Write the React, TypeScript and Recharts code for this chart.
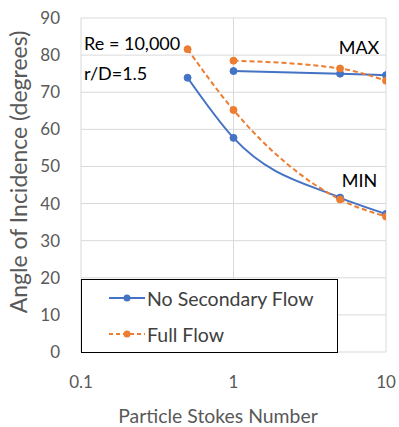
import React from 'react';
import { LineChart, Line, XAxis, YAxis, CartesianGrid, Legend, ReferenceDot } from 'recharts';

const maxStokes = [1, 5, 10];
const minStokes = [0.5, 1, 5, 10];
const noSecondaryMax = [75.7, 75.0, 74.6];
const noSecondaryMin = [73.9, 57.7, 41.6, 37.2];
const fullFlowMax = [78.5, 76.4, 73.1];
const fullFlowMin = [81.6, 65.2, 41.1, 36.5];
const xTicks = [0.1, 1, 10];
const yTicks = [0, 10, 20, 30, 40, 50, 60, 70, 80, 90];
const legendItems = [
  { name: 'No Secondary Flow', color: '#4472C4', dash: '' },
  { name: 'Full Flow', color: '#ED7D31', dash: '4 3' },
];
const annotations = [
  { x: 0.1048, y: 83.2, text: 'Re = 10,000', anchor: 'start' },
  { x: 0.1048, y: 75.3, text: 'r/D=1.5', anchor: 'start' },
  { x: 6.65, y: 82.2, text: 'MAX', anchor: 'middle' },
  { x: 6.7, y: 46.3, text: 'MIN', anchor: 'middle' },
];

const toPts = (xs: number[], ys: number[]) => xs.map((x, i) => ({ x, y: ys[i] }));

const FONT = 'Lato, "Noto Sans", sans-serif';
const BLUE = '#4472C4';
const ORANGE = '#ED7D31';

const LegendBox = () => (
  <div
    style={{
      width: 257,
      height: 74,
      boxSizing: 'border-box',
      border: '1px solid #000',
      background: '#fff',
      fontFamily: FONT,
      fontSize: 19.5,
      color: '#404040',
      paddingTop: 3,
    }}
  >
    {legendItems.map((it) => (
      <div key={it.name} style={{ display: 'flex', alignItems: 'center', height: 30, marginBottom: 6 }}>
        <svg width={66} height={14} style={{ display: 'block' }}>
          <line x1={27} y1={7} x2={63} y2={7} stroke={it.color} strokeWidth={2} strokeDasharray={it.dash} />
          <circle cx={45} cy={7} r={3.5} fill={it.color} />
        </svg>
        <span style={{ marginLeft: -1, whiteSpace: 'nowrap' }}>{it.name}</span>
      </div>
    ))}
  </div>
);

export default function App() {
  return (
    <div style={{ position: 'absolute', left: 0, top: 0, width: 399, height: 427, background: '#fff' }}>
      <LineChart width={399} height={427} margin={{ top: 18, right: 13, left: 0, bottom: 0 }}>
        <CartesianGrid stroke="#d9d9d9" strokeWidth={1} vertical={true} horizontal={true} />
        <XAxis
          dataKey="x"
          type="number"
          scale="log"
          domain={[0.1, 10]}
          ticks={xTicks}
          allowDataOverflow
          axisLine={false}
          tickLine={false}
          tickSize={6}
          tickMargin={18}
          height={75}
          tick={{ fill: '#595959', fontSize: 17, fontFamily: FONT }}
          tickFormatter={(v: number) => String(v)}
          label={{
            content: () => (
              <text x={218} y={415} textAnchor="middle" dominantBaseline="central" fill="#595959" fontSize={19.4} fontFamily={FONT}>
                Particle Stokes Number
              </text>
            ),
          }}
        />
        <YAxis
          dataKey="y"
          type="number"
          domain={[0, 90]}
          ticks={yTicks}
          axisLine={false}
          tickLine={false}
          tickSize={6}
          tickMargin={15}
          width={81}
          tick={{ fill: '#595959', fontSize: 17, fontFamily: FONT }}
          label={{
            content: () => (
              <text
                x={18}
                y={172}
                transform="rotate(-90 18 172)"
                textAnchor="middle"
                dominantBaseline="central"
                fill="#595959"
                fontSize={23}
                fontFamily={FONT}
              >
                Angle of Incidence (degrees)
              </text>
            ),
          }}
        />
        <Line data={toPts(maxStokes, noSecondaryMax)} dataKey="y" type="monotone" stroke={BLUE} strokeWidth={2} dot={{ r: 3.5, fill: BLUE, stroke: BLUE, strokeWidth: 1 }} isAnimationActive={false} legendType="none" />
        <Line data={toPts(minStokes, noSecondaryMin)} dataKey="y" type="monotone" stroke={BLUE} strokeWidth={2} dot={{ r: 3.5, fill: BLUE, stroke: BLUE, strokeWidth: 1 }} isAnimationActive={false} legendType="none" />
        <Line data={toPts(maxStokes, fullFlowMax)} dataKey="y" type="monotone" stroke={ORANGE} strokeWidth={2} strokeDasharray="5 3" dot={{ r: 3.5, fill: ORANGE, stroke: ORANGE, strokeWidth: 1, strokeDasharray: '' }} isAnimationActive={false} legendType="none" />
        <Line data={toPts(minStokes, fullFlowMin)} dataKey="y" type="monotone" stroke={ORANGE} strokeWidth={2} strokeDasharray="5 3" dot={{ r: 3.5, fill: ORANGE, stroke: ORANGE, strokeWidth: 1, strokeDasharray: '' }} isAnimationActive={false} legendType="none" />
        {annotations.map((a) => (
          <ReferenceDot
            key={a.text}
            x={a.x}
            y={a.y}
            r={0}
            ifOverflow="visible"
            shape={(p: any) => (
              <text x={p.cx} y={p.cy} textAnchor={a.anchor as any} dominantBaseline="central" fill="#000" fontSize={18} fontFamily={FONT}>
                {a.text}
              </text>
            )}
          />
        ))}
        <Legend
          layout="horizontal"
          verticalAlign="middle"
          align="center"
          content={() => <LegendBox />}
          wrapperStyle={{ left: 81, top: 279, width: 257, height: 74 }}
        />
      </LineChart>
    </div>
  );
}
